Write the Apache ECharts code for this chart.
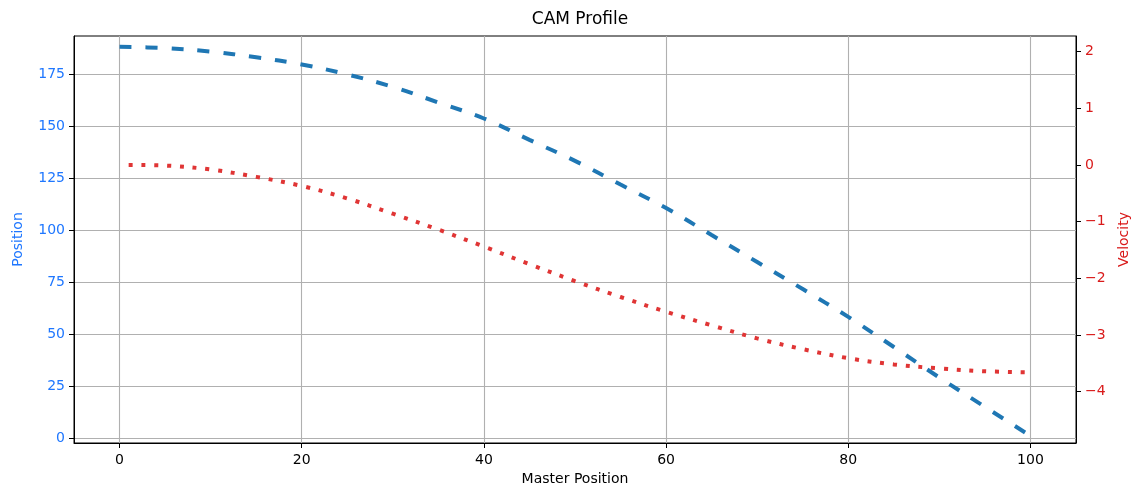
<!DOCTYPE html>
<html>
<head>
<meta charset="utf-8">
<title>CAM Profile</title>
<script src="https://cdn.jsdelivr.net/npm/echarts@6/dist/echarts.min.js"></script>
<style>
  html, body { margin: 0; padding: 0; background: #fff; }
  #chart { width: 1137px; height: 491px; }
</style>
</head>
<body>
<div id="chart"></div>
<script>
// Master axis sample points
const masterX = [0, 5, 10, 15, 20, 25, 30, 35, 40, 45, 50, 55, 60, 65, 70, 75, 80, 85, 90, 95, 100];
// Slave position along the cam
const position = [188.3, 187.7, 186.0, 183.3, 179.8, 175.0, 169.0, 161.5, 153.8, 143.5, 133.4, 122.0, 110.7, 97.7, 84.7, 71.7, 58.3, 43.8, 29.1, 15.0, 1.0];
// Velocity samples (first sample at master = 1)
const velocityX = [1, 5, 10, 15, 20, 25, 30, 35, 40, 45, 50, 55, 60, 65, 70, 75, 80, 85, 90, 95, 100];
const velocity = [0.0, -0.01, -0.08, -0.21, -0.37, -0.59, -0.86, -1.14, -1.44, -1.75, -2.05, -2.33, -2.59, -2.83, -3.06, -3.25, -3.41, -3.52, -3.59, -3.64, -3.66];
// Tick values
const xTicks = [0, 20, 40, 60, 80, 100];
const posTicks = [0, 25, 50, 75, 100, 125, 150, 175];
const velTicks = [-4, -3, -2, -1, 0, 1, 2];

const FONT = 'DejaVu Sans';
const BLUE_TXT = '#1f77ff';
const RED_TXT = '#d91a1a';

const chart = echarts.init(document.getElementById('chart'), null, { renderer: 'canvas' });

chart.setOption({
  animation: false,
  backgroundColor: '#ffffff',
  title: {
    text: 'CAM Profile',
    left: 575,
    top: 6,
    textAlign: 'center',
    textStyle: { fontFamily: FONT, fontSize: 17, fontWeight: 'normal', color: '#000' }
  },
  grid: {
    left: 74, right: 61, top: 36, bottom: 48,
    outerBoundsMode: 'none',
    containLabel: false,
    show: true, borderColor: '#000', borderWidth: 1, backgroundColor: 'transparent'
  },
  xAxis: {
    type: 'value',
    min: -5, max: 105,
    name: 'Master Position',
    nameLocation: 'middle',
    nameGap: 29,
    nameTextStyle: { fontFamily: FONT, fontSize: 14, color: '#000' },
    axisLine: { show: true, onZero: false, lineStyle: { color: '#000', width: 1 } },
    axisTick: { show: true, length: 5, customValues: xTicks, lineStyle: { color: '#000' } },
    axisLabel: { customValues: xTicks, margin: 10, fontFamily: FONT, fontSize: 14, color: '#000' },
    splitLine: { show: true, lineStyle: { color: '#b0b0b0', width: 1.1 } }
  },
  yAxis: [
    {
      type: 'value',
      position: 'left',
      min: -2.4, max: 193.5,
      name: 'Position',
      nameLocation: 'middle',
      nameGap: 49,
      nameRotate: 90,
      nameTextStyle: { fontFamily: FONT, fontSize: 14, color: BLUE_TXT },
      axisLine: { show: true, onZero: false, lineStyle: { color: '#000', width: 1 } },
      axisTick: { show: true, length: 5, customValues: posTicks, lineStyle: { color: '#000' } },
      axisLabel: { customValues: posTicks, margin: 9, fontFamily: FONT, fontSize: 14, color: BLUE_TXT },
      splitLine: { show: true, lineStyle: { color: '#b0b0b0', width: 1.1 } }
    },
    {
      type: 'value',
      position: 'right',
      min: -4.906, max: 2.276,
      name: 'Velocity',
      nameLocation: 'middle',
      nameGap: 41,
      nameRotate: 90,
      nameTextStyle: { fontFamily: FONT, fontSize: 14, color: RED_TXT },
      axisLine: { show: true, onZero: false, lineStyle: { color: '#000', width: 1 } },
      axisTick: { show: true, length: 5, customValues: velTicks, lineStyle: { color: '#000' } },
      axisLabel: {
        customValues: velTicks, margin: 9, fontFamily: FONT, fontSize: 14, color: RED_TXT,
        formatter: v => (v < 0 ? '\u2212' + Math.abs(v) : String(v))
      },
      splitLine: { show: false }
    }
  ],
  series: [
    {
      name: 'Position',
      type: 'line',
      yAxisIndex: 0,
      data: masterX.map((x, i) => [x, position[i]]),
      showSymbol: false,
      smooth: 0.35,
      lineStyle: { color: '#1f77b4', width: 4, type: [12, 14], cap: 'butt' },
      z: 3
    },
    {
      name: 'Velocity',
      type: 'line',
      yAxisIndex: 1,
      data: velocityX.map((x, i) => [x, velocity[i]]),
      showSymbol: false,
      smooth: 0.35,
      lineStyle: { color: '#e03535', width: 4, type: [4, 8.8], cap: 'butt' },
      z: 4
    }
  ]
});
</script>
</body>
</html>
